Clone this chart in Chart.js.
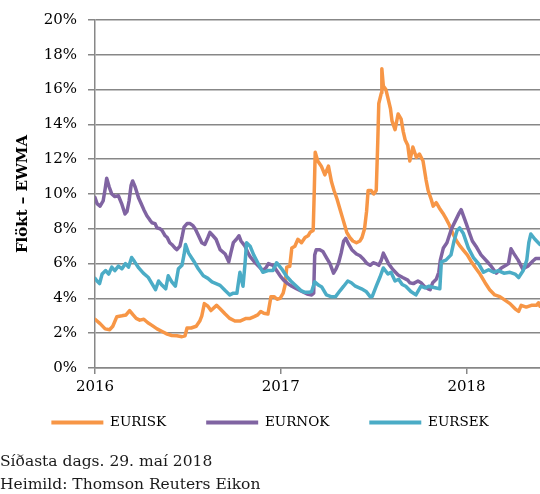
<!DOCTYPE html>
<html>
<head>
<meta charset="utf-8">
<script src="https://cdn.jsdelivr.net/npm/chart.js@4.4.1/dist/chart.umd.min.js"></script>
<style>
  html, body { margin: 0; padding: 0; background: #fff; }
</style>
</head>
<body>
<canvas id="myChart" width="540" height="494"></canvas>
<script>
// EWMA volatility, % — x values are days since 1 Jan 2016
const iskDays = [0,10,20,29,35,43,53,61,68,75,81,88,96,104,112,122,132,142,151,161,171,177,181,189,199,206,210,215,222,228,239,246,256,265,275,285,297,305,313,320,326,332,340,346,352,358,364,370,374,377,383,387,393,399,406,413,419,423,429,431,433,438,445,452,459,465,470,476,482,486,491,495,501,507,514,521,525,530,534,537,543,548,553,556,558,563,564,567,572,577,581,584,590,596,602,606,610,615,619,625,632,638,645,651,655,661,665,671,677,684,690,697,704,711,718,725,732,739,747,757,767,776,786,796,806,816,826,833,838,848,858,868,872,875];
const iskVals = [2.8,2.55,2.25,2.2,2.4,2.95,3.0,3.05,3.3,3.05,2.85,2.75,2.8,2.6,2.45,2.25,2.1,1.95,1.87,1.85,1.8,1.85,2.3,2.3,2.4,2.7,3.0,3.7,3.55,3.3,3.6,3.4,3.1,2.85,2.7,2.7,2.85,2.85,2.95,3.05,3.25,3.15,3.1,4.1,4.1,3.95,4.0,4.3,4.8,5.8,5.85,6.9,7.0,7.4,7.2,7.5,7.6,7.8,7.9,10.0,12.4,11.9,11.6,11.1,11.6,10.7,10.2,9.7,9.1,8.7,8.2,7.8,7.5,7.3,7.2,7.3,7.5,8.0,9.0,10.2,10.2,10.0,10.2,13.0,15.2,15.8,17.2,16.2,16.0,15.4,14.9,14.2,13.7,14.6,14.3,13.6,13.1,12.8,11.9,12.7,12.1,12.3,11.9,10.8,10.2,9.7,9.3,9.5,9.2,8.9,8.6,8.2,7.7,7.3,7.0,6.75,6.5,6.15,5.8,5.4,4.9,4.5,4.2,4.1,3.9,3.7,3.4,3.25,3.6,3.5,3.6,3.6,3.75,3.55];

const nokDays = [0,4,10,16,20,23,28,33,39,46,53,59,63,67,71,74,79,86,90,96,102,108,112,118,122,128,132,138,142,147,151,157,161,167,171,175,181,187,192,197,202,210,216,222,226,232,238,246,256,263,267,272,278,283,287,295,301,305,312,320,330,336,341,350,357,364,371,379,387,397,407,417,426,430,432,435,442,448,455,462,469,474,479,484,489,493,499,505,514,521,528,535,541,547,552,558,563,567,572,577,586,596,605,615,619,626,635,641,649,655,659,664,671,676,679,685,692,701,711,716,720,725,730,737,742,749,759,770,779,789,799,808,813,818,823,832,841,851,861,867,875];
const nokVals = [9.8,9.45,9.3,9.6,10.3,10.9,10.4,10.0,9.85,9.9,9.4,8.85,9.0,9.6,10.5,10.75,10.4,9.75,9.5,9.1,8.75,8.5,8.35,8.3,8.05,8.0,7.9,7.6,7.5,7.2,7.1,6.9,6.8,7.0,7.5,8.1,8.3,8.3,8.2,8.0,7.7,7.2,7.1,7.5,7.8,7.6,7.4,6.8,6.55,6.1,6.6,7.2,7.4,7.6,7.3,7.0,6.6,6.4,6.15,5.9,5.6,5.75,6.0,5.9,5.6,5.3,5.05,4.85,4.7,4.55,4.4,4.25,4.2,4.3,6.5,6.8,6.8,6.7,6.35,6.0,5.45,5.7,6.05,6.6,7.3,7.45,7.1,6.8,6.55,6.45,6.25,6.0,5.9,6.05,6.0,5.9,6.2,6.6,6.3,6.0,5.65,5.35,5.2,5.05,4.9,4.85,5.0,4.9,4.65,4.55,4.5,4.9,5.1,5.5,6.2,6.9,7.2,8.0,8.6,8.9,9.1,8.7,8.3,7.7,7.3,7.0,6.5,6.15,5.85,5.45,5.75,5.9,6.0,6.85,6.6,6.2,5.7,5.85,6.15,6.3,6.3];

const sekDays = [0,4,9,14,21,27,33,39,46,53,60,66,72,78,86,95,105,112,119,125,132,139,144,151,158,164,171,175,178,184,194,203,213,222,230,238,246,256,265,272,279,285,291,295,298,305,312,320,330,340,350,357,367,376,385,396,405,413,421,426,432,440,446,455,464,473,482,489,497,504,512,524,533,541,545,553,560,567,576,582,590,597,604,611,621,631,641,649,657,662,671,678,681,690,700,706,712,717,724,734,744,754,764,774,784,793,804,816,826,833,842,849,853,857,865,875];
const sekVals = [5.15,5.0,4.85,5.4,5.6,5.4,5.8,5.6,5.85,5.7,6.0,5.8,6.35,6.1,5.75,5.45,5.2,4.85,4.5,5.0,4.75,4.55,5.3,4.95,4.7,5.7,5.9,6.5,7.1,6.6,6.15,5.7,5.3,5.15,4.95,4.85,4.75,4.45,4.2,4.3,4.3,5.5,4.7,6.0,7.2,7.0,6.5,6.05,5.5,5.6,5.6,6.05,5.7,5.3,5.0,4.7,4.45,4.35,4.35,4.4,4.95,4.75,4.65,4.2,4.1,4.1,4.45,4.7,5.0,4.9,4.7,4.55,4.4,4.1,4.1,4.7,5.2,5.75,5.4,5.5,5.0,5.1,4.8,4.7,4.4,4.2,4.7,4.6,4.7,4.65,4.6,4.55,6.1,6.2,6.5,7.3,7.9,8.05,7.75,6.9,6.35,6.0,5.5,5.65,5.5,5.6,5.45,5.5,5.4,5.2,5.6,6.2,7.2,7.7,7.4,7.1];

const seriesNames = ['EURISK', 'EURNOK', 'EURSEK'];
const yearTicks = [2016, 2017, 2018];
const yMin = 0, yMax = 20, yStep = 2;
const footerLines = ['Síðasta dags. 29. maí 2018', 'Heimild: Thomson Reuters Eikon'];

function toYear(d) {
  return 2016 + d / 365.25;
}
function points(days, vals) {
  return days.map((d, i) => ({ x: toYear(d), y: vals[i] }));
}

const grey = '#878787';
const serif = 'DejaVu Serif';

// built-in legend needs wide gaps between items, which also pushes its row down; pull it back up
const legendShift = {
  id: 'legendShift',
  afterLayout(chart) {
    const lg = chart.legend;
    const dy = 415.75 - (lg.top + lg.options.labels.padding);
    lg.top += dy;
    lg.bottom += dy;
  }
};

const ctx = document.getElementById('myChart');

new Chart(ctx, {
  type: 'line',
  data: {
    datasets: [
      { label: seriesNames[0], data: points(iskDays, iskVals), borderColor: '#F79646', backgroundColor: '#F79646', order: 3 },
      { label: seriesNames[1], data: points(nokDays, nokVals), borderColor: '#8064A2', backgroundColor: '#8064A2', order: 2 },
      { label: seriesNames[2], data: points(sekDays, sekVals), borderColor: '#4BACC6', backgroundColor: '#4BACC6', order: 1 }
    ]
  },
  options: {
    responsive: false,
    animation: false,
    layout: { padding: { top: 16, right: 0, bottom: 0, left: 0 } },
    elements: {
      line: { borderWidth: 3.5, tension: 0, borderCapStyle: 'round', borderJoinStyle: 'round' },
      // points are hidden; their border width sets the legend line thickness
      point: { radius: 0, hoverRadius: 0, borderWidth: 4 }
    },
    scales: {
      x: {
        type: 'linear',
        min: 2016,
        max: toYear(iskDays[iskDays.length - 1]),
        afterBuildTicks: s => { s.ticks = yearTicks.map(v => ({ value: v })); },
        afterFit: s => { s.paddingLeft = 0; s.paddingRight = 0; },
        grid: { drawOnChartArea: false, drawTicks: true, tickLength: 6, color: grey, lineWidth: 1.5 },
        border: { color: grey, width: 1.5 },
        ticks: {
          callback: v => String(v),
          autoSkip: false,
          maxRotation: 0,
          padding: 4,
          color: '#000',
          font: { family: serif, size: 15 }
        }
      },
      y: {
        min: yMin,
        max: yMax,
        afterFit: s => { s.width = 95; },
        grid: { color: grey, lineWidth: 1.5, tickLength: 7 },
        border: { color: grey, width: 1.5 },
        ticks: {
          stepSize: yStep,
          callback: v => v + '%',
          padding: 11,
          color: '#000',
          font: { family: serif, size: 15 }
        },
        title: {
          display: true,
          text: 'Flökt – EWMA',
          color: '#000',
          font: { family: serif, size: 15, weight: 'bold' },
          padding: { top: 14, bottom: 0 }
        }
      }
    },
    plugins: {
      legend: {
        position: 'bottom',
        labels: {
          usePointStyle: true,
          pointStyle: 'line',
          pointStyleWidth: 52,
          padding: 40,
          color: '#000',
          font: { family: serif, size: 13.5 },
          sort: (a, b) => a.datasetIndex - b.datasetIndex
        }
      },
      subtitle: {
        display: true,
        position: 'bottom',
        align: 'start',
        text: footerLines,
        color: '#1a1a1a',
        font: { family: serif, size: 15.5, lineHeight: 23 / 15.5 },
        padding: { top: -13, bottom: -2.5 }
      },
      tooltip: { enabled: false }
    }
  },
  plugins: [legendShift]
});
</script>
</body>
</html>
